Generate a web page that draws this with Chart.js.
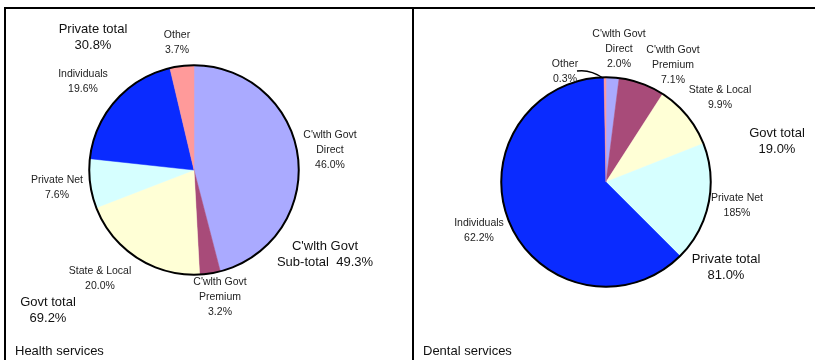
<!DOCTYPE html>
<html>
<head>
<meta charset="utf-8">
<script src="https://cdn.jsdelivr.net/npm/chart.js@4/dist/chart.umd.min.js"></script>
<style>
  body { margin: 0; background: #fff; }
  #wrap { position: relative; width: 815px; height: 360px; overflow: hidden; }
  .c { position: absolute; top: 0; height: 360px; }
  #topline { position: absolute; left: 4px; top: 7px; width: 811px; height: 2px; background: #000; }
  #leftline { position: absolute; left: 4px; top: 7px; width: 2px; height: 353px; background: #000; }
  #midline { position: absolute; left: 412px; top: 7px; width: 2px; height: 353px; background: #000; }
</style>
</head>
<body>
<div id="wrap">
  <div class="c" style="left:0;width:410px"><canvas id="health"></canvas></div>
  <div class="c" style="left:410px;width:405px"><canvas id="dental"></canvas></div>
  <div id="topline"></div>
  <div id="leftline"></div>
  <div id="midline"></div>
</div>
<script>
// categories, clockwise from 12 o'clock
const categories = ["C'wlth Govt Direct", "C'wlth Govt Premium", "State & Local", "Private Net", "Individuals", "Other"];
const healthValues = [46.0, 3.2, 20.0, 7.6, 19.6, 3.7];
const dentalValues = [2.0, 7.1, 9.9, 18.5, 62.2, 0.3];
const sliceColors = ["#aaaaff", "#a84b79", "#ffffd6", "#d6ffff", "#0a2bff", "#ff9a9a"];

// label text; positions are offsets from the pie centre
const healthLabels = [
  { lines: ["Private total", "30.8%"], dx: -101, dy: -141, big: true },
  { lines: ["Other", "3.7%"], dx: -17, dy: -135 },
  { lines: ["Individuals", "19.6%"], dx: -111, dy: -96 },
  { lines: ["C'wlth Govt", "Direct", "46.0%"], dx: 136, dy: -35 },
  { lines: ["Private Net", "7.6%"], dx: -137, dy: 10 },
  { lines: ["State & Local", "20.0%"], dx: -94, dy: 101 },
  { lines: ["C'wlth Govt", "Premium", "3.2%"], dx: 26, dy: 112 },
  { lines: ["C'wlth Govt", "Sub-total  49.3%"], dx: 131, dy: 76, big: true },
  { lines: ["Govt total", "69.2%"], dx: -146, dy: 132, big: true, align: "left", lx: -175 }
];
const dentalLabels = [
  { lines: ["C'wlth Govt", "Direct", "2.0%"], dx: 13, dy: -148 },
  { lines: ["C'wlth Govt", "Premium", "7.1%"], dx: 67, dy: -132 },
  { lines: ["Other", "0.3%"], dx: -41, dy: -118 },
  { lines: ["State & Local", "9.9%"], dx: 114, dy: -92 },
  { lines: ["Govt total", "19.0%"], dx: 171, dy: -49, big: true },
  { lines: ["Private Net", "185%"], dx: 131, dy: 16 },
  { lines: ["Individuals", "62.2%"], dx: -127, dy: 41 },
  { lines: ["Private total", "81.0%"], dx: 120, dy: 77, big: true }
];

const labelPlugin = {
  id: 'pieLabels',
  afterDatasetsDraw(chart, args, opts) {
    const arc = chart.getDatasetMeta(0).data[0];
    const cx = arc.x, cy = arc.y, r = arc.outerRadius;
    const ctx = chart.ctx;
    ctx.save();
    // outline of the whole pie
    ctx.beginPath();
    ctx.arc(cx, cy, r, 0, Math.PI * 2);
    ctx.lineWidth = 2;
    ctx.strokeStyle = '#000';
    ctx.stroke();
    // leader line
    if (opts.leader) {
      const L = opts.leader;
      ctx.beginPath();
      ctx.moveTo(cx + L[0], cy + L[1]);
      ctx.quadraticCurveTo(cx + L[2], cy + L[3], cx + L[4], cy + L[5]);
      ctx.lineWidth = 1.5;
      ctx.stroke();
    }
    ctx.textBaseline = 'middle';
    opts.labels.forEach(l => {
      const size = l.big ? 13 : 10.5;
      const lh = l.big ? 16 : 15;
      ctx.font = size + 'px "Liberation Sans", Arial, sans-serif';
      ctx.fillStyle = l.big ? '#111' : '#222';
      l.lines.forEach((t, i) => {
        ctx.textAlign = 'center';
        ctx.fillText(t, cx + l.dx, cy + l.dy + i * lh);
      });
    });
    // panel title
    ctx.font = '13px "Liberation Sans", Arial, sans-serif';
    ctx.fillStyle = '#111';
    ctx.textAlign = 'left';
    ctx.fillText(opts.title, opts.titleX, 351);
    ctx.restore();
  }
};

function makePie(id, values, labels, padding, title, titleX, leader) {
  new Chart(id, {
    type: 'pie',
    data: {
      labels: categories,
      datasets: [{
        data: values,
        backgroundColor: sliceColors,
        borderColor: sliceColors,
        borderWidth: 0.5
      }]
    },
    options: {
      responsive: true,
      maintainAspectRatio: false,
      animation: false,
      layout: { padding: padding },
      plugins: {
        legend: { display: false },
        tooltip: { enabled: false },
        pieLabels: { labels: labels, title: title, titleX: titleX, leader: leader }
      }
    },
    plugins: [labelPlugin]
  });
}

makePie('health', healthValues, healthLabels, { left: 89, right: 111, top: 65, bottom: 85 }, 'Health services', 15);
makePie('dental', dentalValues, dentalLabels, { left: 91, right: 104, top: 77, bottom: 73 }, 'Dental services', 13,
  [-29, -111, -16, -113, -3, -104]);
</script>
</body>
</html>
